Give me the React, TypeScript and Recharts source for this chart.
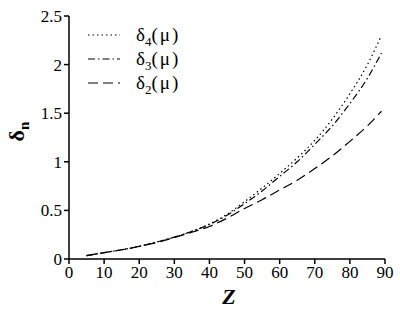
import { LineChart, Line, XAxis, YAxis, Label } from "recharts";

const zValues = [5, 10, 15, 20, 25, 30, 35, 40, 45, 50, 55, 60, 65, 70, 75, 80, 85, 89];
const delta4 = [0.035, 0.065, 0.095, 0.13, 0.175, 0.225, 0.285, 0.36, 0.46, 0.59, 0.73, 0.88, 1.04, 1.22, 1.44, 1.7, 2.0, 2.3];
const delta3 = [0.035, 0.065, 0.095, 0.13, 0.175, 0.225, 0.285, 0.355, 0.45, 0.57, 0.7, 0.85, 1.0, 1.18, 1.37, 1.6, 1.86, 2.12];
const delta2 = [0.035, 0.065, 0.095, 0.13, 0.17, 0.22, 0.275, 0.335, 0.42, 0.52, 0.61, 0.71, 0.81, 0.93, 1.06, 1.21, 1.37, 1.52];

const xTicks = [0, 10, 20, 30, 40, 50, 60, 70, 80, 90];
const yTicks = [0, 0.5, 1, 1.5, 2, 2.5];

const seriesInfo = [
  { key: "d4", sub: "4", dash: "1.5 3" },
  { key: "d3", sub: "3", dash: "7 3 1.5 3" },
  { key: "d2", sub: "2", dash: "10 5" },
];

const data = zValues.map((z, i) => ({ z, d4: delta4[i], d3: delta3[i], d2: delta2[i] }));

const FONT = "'Liberation Serif', 'Times New Roman', serif";
const tickStyle = { fill: "#000", fontSize: 17, fontFamily: FONT, style: { fontFamily: FONT } };

const LegendBox = () => (
  <div style={{ position: "absolute", left: 88, top: 23, fontFamily: FONT, fontSize: 19, color: "#000", lineHeight: "24px" }}>
    {seriesInfo.map((s) => (
      <div key={s.key} style={{ display: "flex", alignItems: "center", height: 24 }}>
        <svg width={34} height={6} style={{ marginRight: 14 }}>
          <line x1={0} y1={3} x2={32} y2={3} stroke="#000" strokeWidth={1} strokeDasharray={s.dash} />
        </svg>
        <span style={{ fontFamily: FONT }}>
          δ<sub style={{ fontSize: 13, verticalAlign: -5, lineHeight: 0 }}>{s.sub}</sub>
          <span style={{ letterSpacing: 2 }}>(μ)</span>
        </span>
      </div>
    ))}
  </div>
);

// eslint-disable-next-line @typescript-eslint/no-explicit-any
const YTitle = (props: any) => {
  const { viewBox } = props;
  const cx = 24;
  const cy = viewBox.y + viewBox.height / 2 - 6;
  return (
    <text x={cx} y={cy} transform={`rotate(-90 ${cx} ${cy})`} textAnchor="middle" fill="#000" style={{ fontFamily: FONT, fontWeight: "bold" }}>
      <tspan fontSize={22}>δ</tspan>
      <tspan fontSize={15} dy={5}>n</tspan>
    </text>
  );
};

// eslint-disable-next-line @typescript-eslint/no-explicit-any
const XTitle = (props: any) => {
  const { viewBox } = props;
  return (
    <text x={viewBox.x + viewBox.width / 2 + 2} y={304} textAnchor="middle" fill="#000" style={{ fontFamily: FONT, fontWeight: "bold", fontStyle: "italic", fontSize: 22 }}>
      Z
    </text>
  );
};

export default function App() {
  return (
    <div style={{ width: 400, height: 312, background: "#fff", position: "relative" }}>
      <style>{"body{margin:0}"}</style>
      <LineChart width={400} height={312} data={data} margin={{ top: 16, right: 15, left: 29, bottom: 21 }}>
        <XAxis
          dataKey="z"
          type="number"
          domain={[0, 90]}
          ticks={xTicks}
          tickSize={5}
          axisLine={{ stroke: "#000", strokeWidth: 1.5 }}
          tickLine={{ stroke: "#000", strokeWidth: 1.5 }}
          tick={tickStyle}
          height={32}
        >
          <Label content={XTitle} />
        </XAxis>
        <YAxis
          type="number"
          domain={[0, 2.5]}
          ticks={yTicks}
          tickSize={5}
          width={40}
          axisLine={{ stroke: "#000", strokeWidth: 1.5 }}
          tickLine={{ stroke: "#000", strokeWidth: 1.5 }}
          tick={tickStyle}
          tickFormatter={(v: number) => String(v)}
        >
          <Label content={YTitle} />
        </YAxis>
        {seriesInfo.map((s) => (
          <Line
            key={s.key}
            type="monotone"
            dataKey={s.key}
            stroke="#000"
            strokeWidth={1.2}
            strokeDasharray={s.dash}
            dot={false}
            isAnimationActive={false}
          />
        ))}
      </LineChart>
      <LegendBox />
    </div>
  );
}
